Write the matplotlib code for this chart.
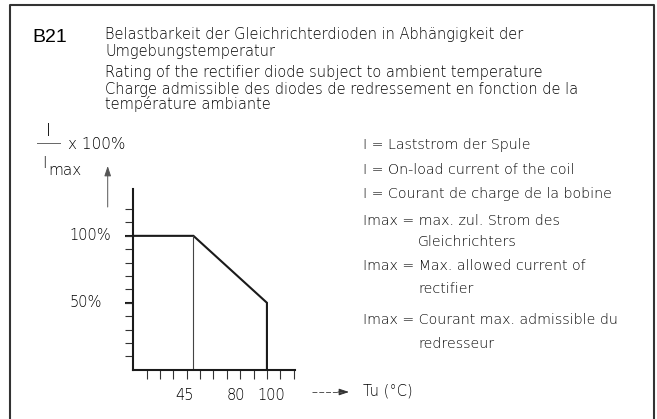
import matplotlib
matplotlib.use('Agg')
import matplotlib.pyplot as plt
from matplotlib.lines import Line2D

W, H = 657, 419  # output size in pixels

# rating curve of the rectifier diode
temp = [0, 45, 100, 100]
rating = [100, 100, 50, 0]
knee_temp = 45
knee_rating = 100

x_minor = [10, 20, 30, 40, 50, 60, 70, 80, 90, 100, 110, 120]
y_minor = [10, 20, 30, 40, 50, 60, 70, 80, 90, 100, 110, 120]
x_labels = [45, 80, 100]
y_major = [50, 100]
y_labels = ['50%', '100%']

title_id = 'B21'
title_blocks = [
    'Belastbarkeit der Gleichrichterdioden in Abhängigkeit der\n'
    'Umgebungstemperatur',
    'Rating of the rectifier diode subject to ambient temperature',
    'Charge admissible des diodes de redressement en fonction de la\n'
    'température ambiante',
]
legend_lines = [
    'I = Laststrom der Spule',
    'I = On-load current of the coil',
    'I = Courant de charge de la bobine',
    'Imax = max. zul. Strom des',
    'Gleichrichters',
    'Imax = Max. allowed current of',
    'rectifier',
    'Imax = Courant max. admissible du',
    'redresseur',
]
legend_indent = [False, False, False, False, True, False, True, False, True]
x_title = 'Tu (°C)'

INK = '#000000'
FONT = 'DejaVu Sans'
x_label_shift = [-9, -4, 4]  # px, hand lettering is not centred on the ticks

# baselines of the first line of each text (pixels from top)
title_base = [37.7, 76, 93]
title_spacing = [1.2, 1.2, 0.95]
legend_base = [149.3, 173.5, 197.5, 224.5, 246.5, 269.5, 292.5, 323.5, 347.5]


def fx(px):
    return px / W


def fy(py):
    return 1 - py / H


def txt(fig, px, py, s, size=10, **kw):
    kw.setdefault('va', 'baseline')
    kw.setdefault('family', FONT)
    kw.setdefault('fontweight', 'light')
    fig.text(fx(px), fy(py), s, fontsize=size, color=INK, **kw)


fig = plt.figure(figsize=(W / 100, H / 100), dpi=100)

# frame (open at the bottom)
fig.add_artist(Line2D([fx(9.5), fx(9.5), fx(653.7), fx(653.7)],
                      [0, fy(5), fy(5), 0], transform=fig.transFigure,
                      color='#333333', lw=1.5))

# header
txt(fig, 32, 41.7, title_id, size=14, family='Liberation Sans',
    fontweight='normal')
for s, b, ls in zip(title_blocks, title_base, title_spacing):
    # multi-line text: anchor on the top so that first baseline sits at b
    txt(fig, 105, b - 11, s, size=10.5, va='top', linespacing=ls)

# explanations on the right
for s, b, ind in zip(legend_lines, legend_base, legend_indent):
    txt(fig, 418 if ind else 363, b, s, size=10.2)

# chart
ax = fig.add_axes([fx(133.3), fy(369.7), fx(295) - fx(133.3),
                   fy(189) - fy(369.7)])
ax.set_xlim(0, 121)
ax.set_ylim(0, 135)
ax.patch.set_alpha(0)
for side in ('top', 'right'):
    ax.spines[side].set_visible(False)
for side in ('left', 'bottom'):
    ax.spines[side].set_linewidth(1.5)
    ax.spines[side].set_color('#1a1a1a')

ax.plot(temp, rating, color='#1a1a1a', lw=1.5, clip_on=False,
        solid_joinstyle='miter')
ax.plot([knee_temp, knee_temp], [0, knee_rating], color='#444444', lw=0.8)

ax.xaxis.remove_overlapping_locs = False
ax.yaxis.remove_overlapping_locs = False
ax.set_xticks(x_labels)
ax.set_xticks(x_minor, minor=True)
ax.set_yticks(y_major)
ax.set_yticks(y_minor, minor=True)
ax.tick_params(axis='x', which='major', length=0, labelbottom=False)
ax.tick_params(axis='x', which='minor', direction='out', length=6.5,
               width=0.8, color='#333333')
ax.tick_params(axis='y', which='major', direction='out', length=6,
               width=1.5, color='#1a1a1a', labelleft=False)
ax.tick_params(axis='y', which='minor', direction='out', length=6,
               width=0.8, color='#333333')

for v, dx in zip(x_labels, x_label_shift):
    ax.annotate(str(v), xy=(v, 0), xycoords=('data', 'axes fraction'),
                xytext=(dx, -18), textcoords='offset pixels', ha='center',
                va='top', fontsize=10.5, family=FONT, fontweight='light',
                color=INK)
for v, s in zip(y_major, y_labels):
    ax.annotate(s, xy=(0, v), xycoords=('axes fraction', 'data'),
                xytext=(-64, 0), textcoords='offset pixels', ha='left',
                va='center', fontsize=10.5, family=FONT, fontweight='light',
                color=INK)

# y axis title: I / Imax x 100%
txt(fig, 49, 130.5, 'I', size=13, ha='center', va='center')
fig.add_artist(Line2D([fx(36.7), fx(60)], [fy(143.3), fy(143.3)],
                      transform=fig.transFigure, color='#666666', lw=0.7))
txt(fig, 68, 149, 'x 100%', size=11)
txt(fig, 42, 168.3, 'I', size=11)
txt(fig, 48, 175, 'max', size=11)
fig.add_artist(matplotlib.patches.FancyArrowPatch(
    (fx(107.7), fy(207)), (fx(107.7), fy(166)), transform=fig.transFigure,
    arrowstyle='-|>,head_length=0.6,head_width=0.2', mutation_scale=10,
    color='#555555', lw=0.7, shrinkA=0, shrinkB=0))

# x axis title: ---> Tu (°C)
fig.add_artist(Line2D([fx(312), fx(342)], [fy(392), fy(392)],
                      transform=fig.transFigure, color='#555555', lw=0.7,
                      dashes=(5, 2)))
fig.add_artist(matplotlib.patches.FancyArrowPatch(
    (fx(338), fy(392)), (fx(349), fy(392)), transform=fig.transFigure,
    arrowstyle='-|>,head_length=0.6,head_width=0.2', mutation_scale=10,
    color='#333333', lw=0.7, shrinkA=0, shrinkB=0))
txt(fig, 363, 395.5, x_title, size=10.5)

fig.savefig('out.png', dpi=100)
